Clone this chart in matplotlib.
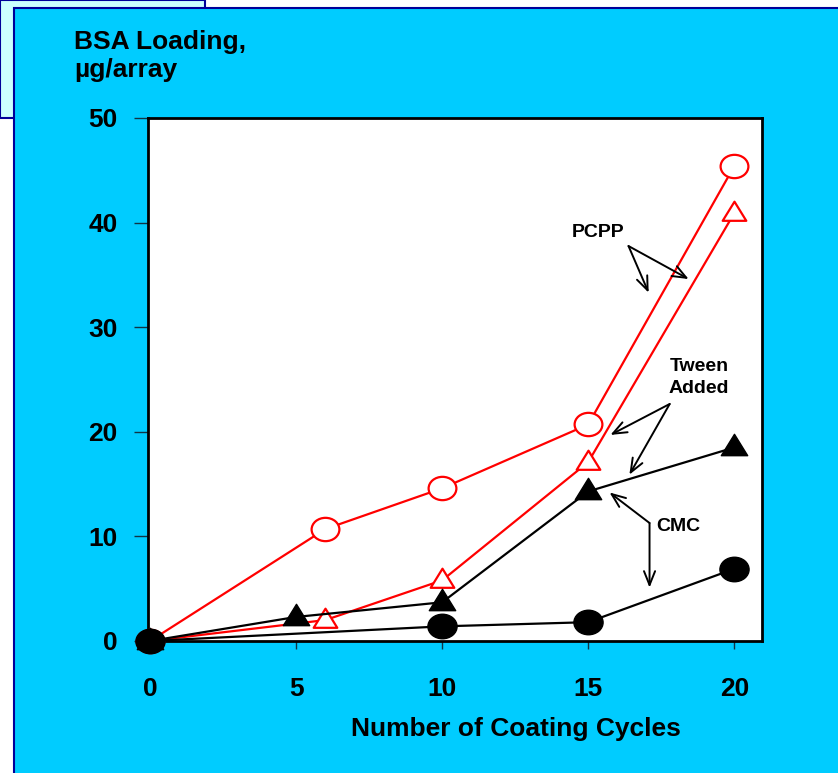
import numpy as np
import matplotlib
matplotlib.use('Agg')
import matplotlib.pyplot as plt
from matplotlib.patches import Rectangle
from matplotlib.path import Path
from matplotlib.transforms import Affine2D

plt.rcParams['font.family'] = ['Liberation Sans', 'DejaVu Sans']
plt.rcParams['font.weight'] = 'bold'

# data
pcpp_x = [0, 6, 10, 15, 20]
pcpp_y = [0, 10.7, 14.6, 20.7, 45.4]
pcpp_tween_x = [0, 6, 10, 15, 20]
pcpp_tween_y = [0, 2.0, 5.8, 17.1, 40.9]
cmc_tween_x = [0, 5, 10, 15, 20]
cmc_tween_y = [0, 2.3, 3.7, 14.3, 18.5]
cmc_x = [0, 10, 15, 20]
cmc_y = [0, 1.4, 1.8, 6.9]

x_ticks = [0, 5, 10, 15, 20]
y_ticks = [0, 10, 20, 30, 40, 50]

# slightly squashed markers, as in the original slide
ellipse = Path.unit_circle().transformed(Affine2D().scale(1.0, 0.84))
tri = Path([(0, 1), (-1, -0.62), (1, -0.62), (0, 1)],
           [Path.MOVETO, Path.LINETO, Path.LINETO, Path.CLOSEPOLY])

W, H = 838, 773
fig = plt.figure(figsize=(W / 100, H / 100), dpi=100, facecolor='white')

navy = '#000099'
fig.patches.append(Rectangle((0, 1 - 118 / H), 205 / W, 118 / H, transform=fig.transFigure,
                             facecolor='#CCFFFF', edgecolor=navy, lw=1.5, zorder=-3))
fig.patches.append(Rectangle((14 / W, -0.05), 1.0, 1.05 - 8 / H, transform=fig.transFigure,
                             facecolor='#00CCFF', edgecolor=navy, lw=1.5, zorder=-2))

ax = fig.add_axes([148 / W, 1 - 641 / H, 614 / W, 523 / H])
ax.set_facecolor('white')

ax.plot(pcpp_x, pcpp_y, color='red', lw=1.6, marker=ellipse, markersize=20,
        markerfacecolor='white', markeredgecolor='red', markeredgewidth=1.6,
        zorder=3, clip_on=False)
ax.plot(pcpp_tween_x, pcpp_tween_y, color='red', lw=1.6, marker=tri, markersize=17,
        markerfacecolor='white', markeredgecolor='red', markeredgewidth=1.6,
        zorder=3, clip_on=False)
ax.plot(cmc_tween_x, cmc_tween_y, color='black', lw=1.6, marker=tri, markersize=19,
        markerfacecolor='black', markeredgecolor='black', zorder=4, clip_on=False)
ax.plot(cmc_x, cmc_y, color='black', lw=1.6, marker=ellipse, markersize=21,
        markerfacecolor='black', markeredgecolor='black', zorder=5, clip_on=False)

ax.set_xlim(-0.07, 20.95)
ax.set_ylim(0, 50)
ax.set_xticks(x_ticks)
ax.set_yticks(y_ticks)
ax.tick_params(axis='x', direction='out', length=6, width=1, color='#113344',
               pad=20, labelsize=19)
ax.tick_params(axis='y', direction='out', length=10, width=1, color='#113344',
               pad=12, labelsize=19)
for lbl in ax.get_xticklabels() + ax.get_yticklabels():
    lbl.set_fontweight('bold')
for s in ax.spines.values():
    s.set_linewidth(2)
    s.set_color('black')

ax.set_xlabel('Number of Coating Cycles', fontsize=19, fontweight='bold')
ax.xaxis.set_label_coords(0.6, -0.146)

fig.text(74 / W, 1 - 30 / H, 'BSA Loading,\nµg/array', ha='left', va='top',
         fontsize=19, fontweight='bold', linespacing=1.2)

arrow = dict(arrowstyle='->,head_length=1.0,head_width=0.4', color='black', lw=1.4,
             shrinkA=0, shrinkB=0)

ax.text(15.35, 39.1, 'PCPP', ha='center', va='center', fontsize=14, fontweight='bold')
ax.annotate('', xy=(17.07, 33.3), xytext=(16.38, 37.76), arrowprops=arrow)
ax.annotate('', xy=(18.44, 34.6), xytext=(16.38, 37.76), arrowprops=arrow)

ax.text(18.8, 25.2, 'Tween\nAdded', ha='center', va='center', fontsize=14,
        fontweight='bold', linespacing=1.35)
ax.annotate('', xy=(15.76, 19.7), xytext=(17.79, 22.66), arrowprops=arrow)
ax.annotate('', xy=(16.41, 15.9), xytext=(17.79, 22.66), arrowprops=arrow)

ax.text(18.1, 10.9, 'CMC', ha='center', va='center', fontsize=14, fontweight='bold')
ax.annotate('', xy=(15.73, 14.2), xytext=(17.1, 11.28), arrowprops=arrow)
ax.annotate('', xy=(17.1, 5.1), xytext=(17.1, 11.28), arrowprops=arrow)

fig.savefig('out.png', dpi=100, facecolor=fig.get_facecolor())
